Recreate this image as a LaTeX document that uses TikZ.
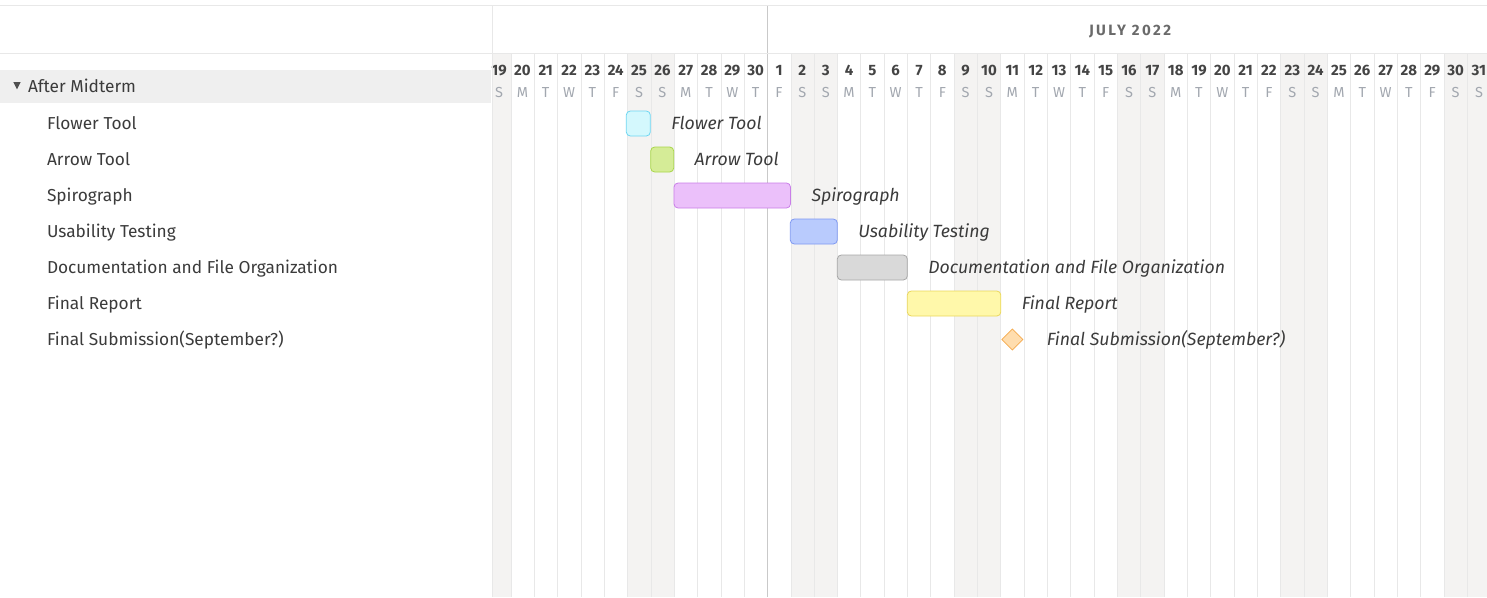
\documentclass[tikz,border=0pt]{standalone}
\usepackage{fontspec}
\setmainfont{Fira Sans}
\usetikzlibrary{positioning, shapes.geometric}

\definecolor{gridline}{HTML}{E8E8E8}
\definecolor{monthline}{HTML}{C9C9C9}
\definecolor{weekend}{HTML}{F4F3F2}
\definecolor{grouprow}{HTML}{EFEFEF}
\definecolor{darktext}{HTML}{3B3B3B}
\definecolor{daytext}{HTML}{444444}
\definecolor{lighttext}{HTML}{A2A7AF}
\definecolor{monthtext}{HTML}{6A6A6A}
\definecolor{cyanfill}{HTML}{D4F8FD}   \definecolor{cyanline}{HTML}{6DD6F2}
\definecolor{greenfill}{HTML}{D5EC97}  \definecolor{greenline}{HTML}{A9D64A}
\definecolor{violetfill}{HTML}{EBC0FA} \definecolor{violetline}{HTML}{C97EE8}
\definecolor{bluefill}{HTML}{B9CBFD}   \definecolor{blueline}{HTML}{7E98F2}
\definecolor{grayfill}{HTML}{D9D9D9}   \definecolor{grayline}{HTML}{A6A6A6}
\definecolor{yellowfill}{HTML}{FFF8AA} \definecolor{yellowline}{HTML}{EBD75A}
\definecolor{orangefill}{HTML}{FFDDAE} \definecolor{orangeline}{HTML}{F5A94C}

\begin{document}
\begin{tikzpicture}[x=1pt, y=-1pt,
    every node/.style={inner sep=0pt, outer sep=0pt},
    daynum/.style={font=\bfseries\fontsize{15}{15}\selectfont, text=daytext, text height=10.3pt, text depth=0pt},
    dayletter/.style={font=\fontsize{14.5}{14.5}\selectfont, text=lighttext, text height=10pt, text depth=0pt},
    taskname/.style={anchor=west, font=\fontsize{17.3}{17.3}\selectfont, text=darktext, text height=11.9pt, text depth=0pt},
    bar/.style={rectangle, draw=#1line, fill=#1fill, rounded corners=4pt, minimum height=25pt, anchor=west, line width=0.8pt},
    barlabel/.style={font=\itshape\fontsize{17.7}{17.7}\selectfont, text=darktext, text height=12.2pt, text depth=0pt}]
  \useasboundingbox (0,0) rectangle (1487,597);
  \clip (0,0) rectangle (1487,597);

  % day columns
  \foreach \i in {0,...,42}{
    \pgfmathsetmacro\xl{max(487.4+23.33*\i,492.3)}
    \pgfmathsetmacro\xr{487.4+23.33*(\i+1)}
    \pgfmathsetmacro\xc{487.4+23.33*\i+11.67}
    \pgfmathtruncatemacro\w{mod(\i,7)}
    \pgfmathtruncatemacro\we{(\w==0)||(\w==6)}
    \pgfmathtruncatemacro\d{\i<12 ? \i+19 : \i-11}
    \ifnum\we=1\relax
      \fill[weekend] (\xl,53) rectangle (\xr,597);
    \fi
    \node[daynum] (d\i) at (\xc,70.5) {\d};
    \node[dayletter] (w\i) at (\xc,92.5) {\ifcase\w S\or M\or T\or W\or T\or F\or S\fi};
  }
  \foreach \i in {1,...,42}
    \draw[gridline] (487.4+23.33*\i,53) -- (487.4+23.33*\i,597);
  \draw[monthline] (767.3,5) -- (767.3,597);

  % frame
  \draw[gridline] (0,5) -- (1487,5);
  \draw[gridline] (0,53) -- (1487,53);
  \draw[gridline] (492.3,5) -- (492.3,597);
  \node[font=\bfseries\fontsize{15}{15}\selectfont\addfontfeatures{LetterSpace=16}, text=monthtext] (month) at (1130,32) {JULY 2022};

  % task list
  \fill[grouprow] (0,70) rectangle (491,103);
  \fill[darktext!90] (13.3,82) -- (20.7,82) -- (17,89.3) -- cycle;
  \node[taskname] (group) at (28,86.5) {After Midterm};
  \foreach \name [count=\k] in {Flower Tool, Arrow Tool, Spirograph, Usability Testing,
      Documentation and File Organization, Final Report, Final Submission(September?)}
    \node[taskname] (t\k) at (47,87.5+36*\k) {\name};

  % bars
  \node[bar=cyan, minimum width=24pt] (flower) at (626.3,123.5) {};
  \node[bar=green, minimum width=23pt] (arrow) at (650.7,159.5) {};
  \node[bar=violet, minimum width=116.5pt] (spiro) at (674,195.5) {};
  \node[bar=blue, minimum width=47pt] (usability) at (790.3,231.5) {};
  \node[bar=gray, minimum width=70pt] (docs) at (837.3,267.5) {};
  \node[bar=yellow, minimum width=93.5pt] (report) at (907.3,303.5) {};
  \node[diamond, draw=orangeline, fill=orangefill, minimum size=21pt, line width=0.8pt] (submit) at (1012.4,339.5) {};

  \node[barlabel, right=21pt of flower] (flowerlbl) {Flower Tool};
  \node[barlabel, right=21pt of arrow] (arrowlbl) {Arrow Tool};
  \node[barlabel, right=21pt of spiro] (spirolbl) {Spirograph};
  \node[barlabel, right=21pt of usability] (usabilitylbl) {Usability Testing};
  \node[barlabel, right=21pt of docs] (docslbl) {Documentation and File Organization};
  \node[barlabel, right=21pt of report] (reportlbl) {Final Report};
  \node[barlabel, right=24pt of submit] (submitlbl) {Final Submission(September?)};
\end{tikzpicture}
\end{document}
